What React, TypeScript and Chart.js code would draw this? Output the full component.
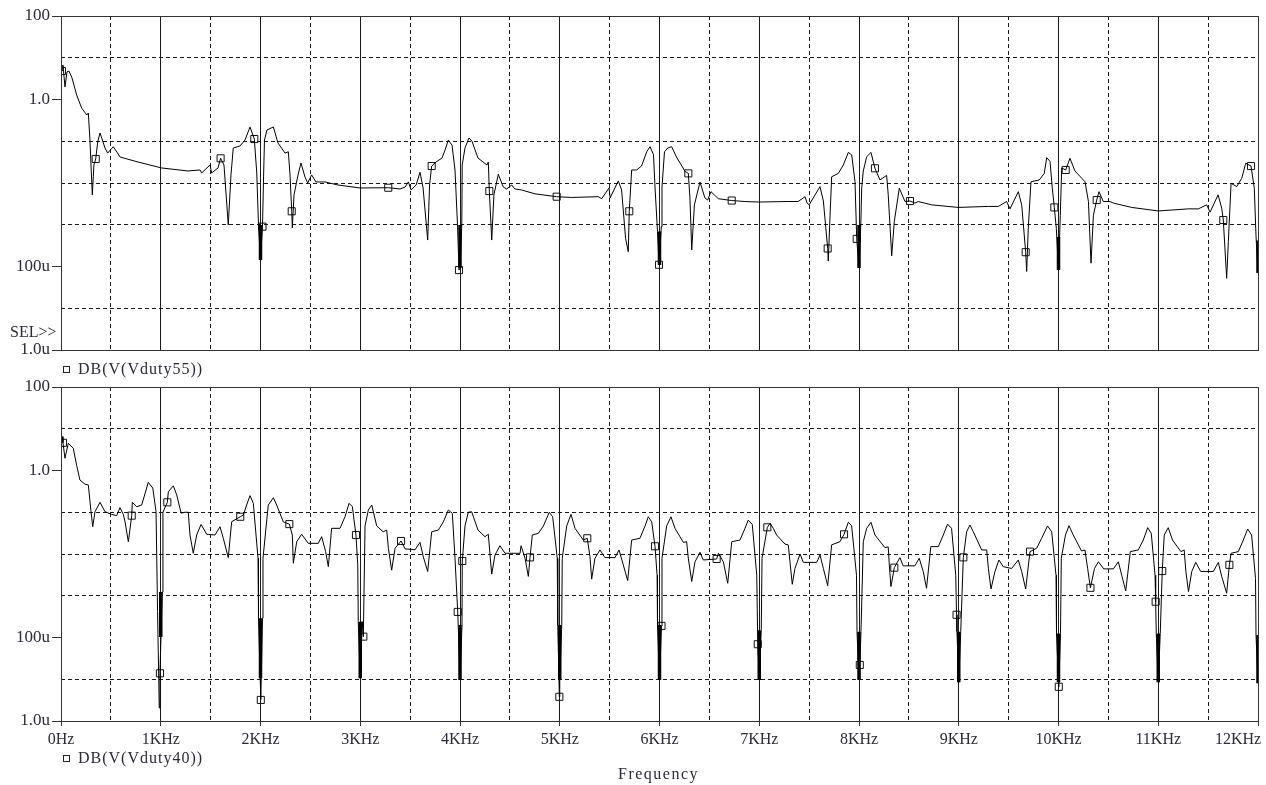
import React, { useEffect, useRef } from "react";
import { Chart, registerables } from "chart.js";

Chart.register(...registerables);

// ---------- axis data ----------
const xTickKHz = [0, 0.5, 1, 1.5, 2, 2.5, 3, 3.5, 4, 4.5, 5, 5.5, 6, 6.5, 7, 7.5, 8, 8.5, 9, 9.5, 10, 10.5, 11, 11.5, 12];
const xTickLabels = ["0Hz", "", "1KHz", "", "2KHz", "", "3KHz", "", "4KHz", "", "5KHz", "", "6KHz", "", "7KHz", "", "8KHz", "", "9KHz", "", "10KHz", "", "11KHz", "", "12KHz"];
const yTickValues = [1e-6, 1e-5, 1e-4, 1e-3, 1e-2, 1e-1, 1, 10, 100];
const yTickLabels = ["1.0u", "", "100u", "", "", "", "1.0", "", "100"];

// ---------- DB(V(Vduty55)) : [kHz, magnitude] ----------
const trace55: [number, number][] = [
  [0, 5.1], [0.01, 4.8], [0.02, 6.7], [0.04, 2.0], [0.06, 4.6], [0.08, 4.8], [0.11, 3.3], [0.157, 1.28], [0.207, 0.625], [0.258, 0.425],
  [0.274, 0.475], [0.29, 0.107], [0.314, 5.2e-3], [0.33, 0.027], [0.348, 0.0376], [0.368, 0.096], [0.391, 0.158], [0.441, 0.069], [0.468, 0.052], [0.524, 0.074],
  [0.561, 0.055], [0.591, 0.042], [0.772, 0.0318], [1.01, 0.0229], [1.273, 0.0194], [1.393, 0.0205], [1.41, 0.0174], [1.494, 0.027], [1.51, 0.0174], [1.574, 0.0229],
  [1.6, 0.039], [1.634, 0.027], [1.677, 9.9e-4], [1.704, 0.0156], [1.727, 0.069], [1.794, 0.077], [1.845, 0.107], [1.895, 0.22], [1.938, 0.113], [1.962, 0.0183],
  [1.98, 9.9e-4], [2.0, 1.43e-4], [2.02, 9e-4], [2.03, 0.0118], [2.04, 0.107], [2.065, 0.186], [2.129, 0.22], [2.175, 0.091], [2.246, 0.052], [2.279, 0.056],
  [2.296, 0.0156], [2.313, 2.1e-3], [2.319, 8.4e-4], [2.336, 5.2e-3], [2.376, 0.0156], [2.406, 0.0301], [2.446, 0.0139], [2.473, 0.01], [2.513, 0.0156], [2.556, 0.0106],
  [2.647, 0.0106], [2.777, 8.95e-3], [2.998, 7.6e-3], [3.281, 7.7e-3], [3.4, 7.2e-3], [3.45, 8.0e-3], [3.482, 0.0106], [3.51, 6.8e-3], [3.56, 8.95e-3], [3.599, 0.018],
  [3.63, 7.6e-3], [3.676, 4.3e-4], [3.695, 8.95e-3], [3.716, 0.0255], [3.76, 0.0318], [3.82, 0.0397], [3.85, 0.0617], [3.883, 0.107], [3.92, 0.081], [3.95, 0.0205],
  [3.975, 9.9e-4], [3.99, 8.2e-5], [4.0, 9.2e-5], [4.018, 9.9e-4], [4.022, 0.027], [4.05, 0.069], [4.09, 0.12], [4.12, 0.1], [4.18, 0.0397], [4.27, 0.027],
  [4.284, 0.0318], [4.294, 6.4e-3], [4.318, 4.3e-4], [4.34, 5.2e-3], [4.384, 0.0162], [4.434, 8.0e-3], [4.468, 7.2e-3], [4.518, 8.95e-3], [4.55, 7.2e-3], [4.618, 6.8e-3],
  [4.752, 5.5e-3], [4.969, 4.7e-3], [5.12, 4.5e-3], [5.387, 4.7e-3], [5.42, 4.2e-3], [5.494, 7.6e-3], [5.505, 4.4e-3], [5.587, 0.0112], [5.62, 6.8e-3], [5.66, 4.7e-4],
  [5.687, 2.26e-4], [5.697, 2.1e-3], [5.721, 0.0205], [5.77, 0.0205], [5.82, 0.0255], [5.872, 0.056], [5.905, 0.074], [5.94, 0.0476], [5.955, 8.0e-3], [5.98, 6.9e-4],
  [5.995, 1.1e-4], [6.018, 9e-4], [6.025, 8e-3], [6.05, 0.056], [6.083, 0.069], [6.122, 0.074], [6.17, 0.042], [6.256, 0.019], [6.289, 0.017], [6.305, 4.4e-3],
  [6.323, 2.5e-4], [6.35, 3e-3], [6.406, 0.0106], [6.455, 4.4e-3], [6.483, 3.9e-3], [6.516, 6.2e-3], [6.59, 4.2e-3], [6.724, 3.8e-3], [6.856, 3.6e-3], [6.99, 3.5e-3],
  [7.29, 3.6e-3], [7.39, 3.6e-3], [7.459, 4.7e-3], [7.48, 3.3e-3], [7.5, 3.0e-3], [7.609, 8.2e-3], [7.643, 3.7e-3], [7.686, 2.7e-4], [7.692, 1.35e-4], [7.71, 1.7e-3],
  [7.726, 0.0141], [7.793, 0.017], [7.843, 0.027], [7.893, 0.054], [7.927, 0.047], [7.96, 0.0107], [7.977, 4.6e-4], [8.0, 9.2e-5], [8.018, 1e-3], [8.027, 7.5e-3],
  [8.043, 0.0194], [8.077, 0.0427], [8.12, 0.054], [8.16, 0.0225], [8.21, 0.0118], [8.277, 0.0152], [8.293, 5.2e-3], [8.328, 1.8e-4], [8.354, 1.2e-3], [8.404, 7.5e-3],
  [8.461, 3.6e-3], [8.511, 3.7e-3], [8.561, 3.3e-3], [8.594, 3.6e-3], [8.728, 3.0e-3], [8.996, 2.6e-3], [9.297, 2.75e-3], [9.397, 2.75e-3], [9.48, 3.6e-3], [9.514, 2.4e-3],
  [9.597, 6.2e-3], [9.631, 3.0e-3], [9.671, 2.2e-4], [9.681, 7.6e-5], [9.697, 8.3e-4], [9.724, 0.0107], [9.807, 0.0118], [9.857, 0.017], [9.882, 0.0404], [9.915, 0.033],
  [9.938, 7.5e-3], [9.958, 2.6e-3], [9.978, 8.3e-4], [10.0, 8.2e-5], [10.018, 1.7e-3], [10.032, 0.0229], [10.072, 0.0205], [10.115, 0.039], [10.165, 0.0194], [10.266, 0.0107],
  [10.3, 3.6e-3], [10.326, 1.2e-4], [10.35, 1.7e-3], [10.383, 3.9e-3], [10.406, 6.2e-3], [10.449, 3.6e-3], [10.516, 3.6e-3], [10.55, 3.3e-3], [10.734, 2.6e-3], [11.0, 2.14e-3],
  [11.3, 2.4e-3], [11.402, 2.4e-3], [11.485, 3.0e-3], [11.519, 2.0e-3], [11.6, 5.2e-3], [11.636, 2.5e-3], [11.652, 1.3e-3], [11.686, 5.2e-5], [11.703, 4e-4], [11.73, 9.8e-3],
  [11.787, 8.2e-3], [11.837, 0.013], [11.877, 0.0297], [11.93, 0.0255], [11.963, 7.5e-3], [11.98, 5.4e-4], [12.0, 7e-5],
];
const markers55: [number, number][] = [
  [0.01, 4.8], [0.348, 0.0376], [1.6, 0.039], [1.938, 0.113], [2.02, 9e-4], [2.313, 2.1e-3], [3.281, 7.7e-3], [3.716, 0.0255], [3.99, 8.2e-5],
  [4.294, 6.4e-3], [4.969, 4.7e-3], [5.697, 2.1e-3], [5.995, 1.1e-4], [6.289, 0.017], [6.724, 3.8e-3], [7.686, 2.7e-4], [7.977, 4.6e-4],
  [8.16, 0.0225], [8.511, 3.7e-3], [9.671, 2.2e-4], [9.958, 2.6e-3], [10.072, 0.0205], [10.383, 3.9e-3], [11.652, 1.3e-3], [11.93, 0.0255],
];
const notchKHz55 = [2, 4, 6, 8, 10, 12];
const notchTop55 = [9.9e-4, 9.9e-4, 6.9e-4, 9.9e-4, 5.1e-4, 4.2e-4];
const notchBottom55 = [1.43e-4, 9.2e-5, 1.09e-4, 9.2e-5, 8.2e-5, 7e-5];

// ---------- DB(V(Vduty40)) : [kHz, magnitude] ----------
const trace40: [number, number][] = [
  [0, 5.4], [0.013, 6.5], [0.02, 4.6], [0.04, 1.96], [0.073, 4.5], [0.123, 3.4], [0.157, 1.32], [0.19, 0.59], [0.241, 0.47], [0.274, 0.45],
  [0.301, 0.103], [0.318, 0.045], [0.341, 0.103], [0.391, 0.173], [0.441, 0.103], [0.508, 0.089], [0.558, 0.083], [0.591, 0.129], [0.625, 0.089], [0.642, 0.0587],
  [0.675, 0.0197], [0.709, 0.083], [0.715, 0.173], [0.759, 0.136], [0.809, 0.149], [0.875, 0.52], [0.92, 0.38], [0.953, 0.103], [0.968, 4.2e-4], [0.985, 2.05e-6],
  [0.992, 1.39e-5], [1.015, 1.23e-3], [1.022, 0.1], [1.066, 0.173], [1.076, 0.31], [1.126, 0.43], [1.16, 0.26], [1.204, 0.095], [1.243, 0.1], [1.276, 0.1],
  [1.293, 0.0285], [1.326, 0.0104], [1.36, 0.0285], [1.404, 0.051], [1.461, 0.0297], [1.544, 0.0285], [1.594, 0.045], [1.627, 0.0238], [1.677, 8.2e-3], [1.711, 0.0594],
  [1.797, 0.078], [1.828, 0.086], [1.861, 0.149], [1.895, 0.25], [1.928, 0.164], [1.975, 7.9e-3], [1.98, 2.9e-4], [2.003, 3.2e-6], [2.02, 2.9e-4], [2.025, 7.9e-3],
  [2.078, 0.149], [2.129, 0.223], [2.162, 0.149], [2.229, 0.0587], [2.289, 0.052], [2.319, 0.0285], [2.329, 6e-3], [2.363, 0.0197], [2.412, 0.0297], [2.479, 0.018],
  [2.579, 0.018], [2.613, 0.026], [2.653, 0.0114], [2.68, 4.97e-3], [2.713, 0.0412], [2.797, 0.0412], [2.847, 0.078], [2.888, 0.164], [2.921, 0.136], [2.957, 0.0285],
  [2.975, 5.5e-3], [2.98, 2.4e-4], [3.0, 1.05e-5], [3.02, 2.4e-4], [3.031, 1.05e-4], [3.048, 0.047], [3.081, 0.113], [3.115, 0.149], [3.165, 0.047], [3.23, 0.034],
  [3.265, 0.0375], [3.282, 0.0137], [3.315, 4.1e-3], [3.349, 0.0137], [3.409, 0.0205], [3.449, 0.0133], [3.549, 0.0126], [3.599, 0.019], [3.632, 8.6e-3], [3.676, 3.8e-3],
  [3.716, 0.034], [3.783, 0.0375], [3.833, 0.0587], [3.883, 0.113], [3.923, 0.094], [3.95, 7.9e-3], [3.977, 4.1e-4], [3.982, 2.0e-4], [4.0, 9.6e-6], [4.02, 2.0e-4],
  [4.023, 6.8e-3], [4.05, 0.047], [4.083, 0.1], [4.117, 0.103], [4.18, 0.0375], [4.25, 0.026], [4.284, 0.0297], [4.301, 9.5e-3], [4.318, 3.3e-3], [4.351, 9.5e-3],
  [4.401, 0.0158], [4.451, 0.0104], [4.602, 0.0104], [4.612, 0.0158], [4.652, 7.9e-3], [4.685, 2.9e-3], [4.702, 8.3e-3], [4.725, 0.0285], [4.786, 0.0313], [4.836, 0.047],
  [4.895, 0.1], [4.929, 0.078], [4.975, 7.9e-3], [4.98, 2.0e-4], [4.996, 3.8e-6], [5.0, 9.6e-6], [5.02, 2.0e-4], [5.025, 7.9e-3], [5.07, 0.047], [5.113, 0.089],
  [5.153, 0.0412], [5.236, 0.0216], [5.276, 0.0238], [5.303, 8.6e-3], [5.32, 2.5e-3], [5.353, 7.9e-3], [5.403, 0.0125], [5.453, 8.2e-3], [5.554, 8.2e-3], [5.594, 0.0125],
  [5.637, 5.5e-3], [5.681, 2.3e-3], [5.721, 0.0216], [5.804, 0.0238], [5.855, 0.047], [5.888, 0.078], [5.922, 0.0587], [5.955, 0.0153], [5.976, 3.1e-3], [5.98, 2.0e-4],
  [6.0, 9.6e-6], [6.02, 1.9e-4], [6.025, 7.9e-3], [6.072, 0.047], [6.115, 0.078], [6.155, 0.0412], [6.239, 0.019], [6.272, 0.0197], [6.289, 7.9e-3], [6.323, 2.2e-3],
  [6.356, 6.5e-3], [6.406, 0.011], [6.439, 7.2e-3], [6.573, 7.6e-3], [6.59, 0.0104], [6.64, 6.5e-3], [6.684, 1.99e-3], [6.724, 0.0197], [6.807, 0.0216], [6.857, 0.0412],
  [6.89, 0.065], [6.93, 0.051], [6.975, 3.1e-3], [6.985, 6.9e-5], [7.0, 9.6e-6], [7.02, 1.5e-4], [7.028, 7.9e-3], [7.081, 0.0436], [7.108, 0.054], [7.141, 0.0412],
  [7.174, 0.0285], [7.258, 0.0173], [7.291, 0.0165], [7.308, 6.5e-3], [7.331, 1.88e-3], [7.358, 4.5e-3], [7.409, 0.01], [7.442, 6.3e-3], [7.576, 6.3e-3], [7.609, 9.5e-3],
  [7.643, 4.5e-3], [7.686, 1.74e-3], [7.726, 0.0166], [7.809, 0.0197], [7.85, 0.0296], [7.893, 0.0575], [7.926, 0.0477], [7.975, 3.1e-3], [7.98, 1.38e-4], [8.0, 9.6e-6],
  [8.008, 2.2e-5], [8.02, 1.38e-4], [8.043, 0.0197], [8.077, 0.0412], [8.12, 0.0575], [8.16, 0.0285], [8.26, 0.0142], [8.293, 0.0148], [8.304, 5.5e-3], [8.32, 1.66e-3],
  [8.354, 4.7e-3], [8.41, 8.2e-3], [8.443, 5.2e-3], [8.56, 5.2e-3], [8.604, 7.9e-3], [8.644, 3.8e-3], [8.677, 1.51e-3], [8.72, 0.015], [8.795, 0.015], [8.845, 0.0285],
  [8.888, 0.052], [8.928, 0.0412], [8.97, 3.1e-3], [8.978, 3.5e-4], [8.982, 1.38e-4], [9.0, 8.5e-6], [9.02, 1.38e-4], [9.046, 8.3e-3], [9.079, 0.034], [9.112, 0.0495],
  [9.146, 0.034], [9.23, 0.0125], [9.28, 0.0125], [9.297, 4.5e-3], [9.323, 1.45e-3], [9.363, 3.8e-3], [9.403, 7.2e-3], [9.446, 4.97e-3], [9.53, 4.5e-3], [9.597, 7.2e-3],
  [9.631, 3.8e-3], [9.671, 1.45e-3], [9.714, 0.0114], [9.781, 0.0137], [9.831, 0.0238], [9.89, 0.047], [9.932, 0.034], [9.975, 3.1e-3], [9.98, 1.25e-4], [10.003, 6.6e-6],
  [10.02, 1.25e-4], [10.028, 7.9e-3], [10.07, 0.0285], [10.105, 0.0477], [10.148, 0.0285], [10.231, 0.0118], [10.265, 0.0125], [10.292, 4.5e-3], [10.32, 1.55e-3], [10.361, 4.5e-3],
  [10.4, 6.5e-3], [10.454, 4.4e-3], [10.55, 4.4e-3], [10.6, 6.5e-3], [10.634, 3.1e-3], [10.674, 1.3e-3], [10.72, 0.0114], [10.8, 0.0125], [10.85, 0.0216], [10.894, 0.0427],
  [10.93, 0.0313], [10.968, 3.1e-3], [10.974, 7.2e-4], [10.98, 1.25e-4], [11.0, 8.5e-6], [11.02, 1.25e-4], [11.04, 3.9e-3], [11.06, 0.0285], [11.1, 0.0427], [11.143, 0.0216],
  [11.227, 0.0114], [11.26, 0.0125], [11.277, 3.8e-3], [11.303, 1.26e-3], [11.336, 3.8e-3], [11.376, 6.3e-3], [11.426, 3.8e-3], [11.552, 3.8e-3], [11.602, 6.3e-3], [11.636, 2.9e-3],
  [11.686, 1.15e-3], [11.713, 5.5e-3], [11.73, 0.0104], [11.803, 0.0114], [11.853, 0.0216], [11.896, 0.0397], [11.936, 0.0285], [11.975, 2.6e-3], [11.98, 1.15e-4], [12.0, 8e-6],
];
const markers40: [number, number][] = [
  [0.02, 4.6], [0.709, 0.083], [0.992, 1.39e-5], [1.066, 0.173], [1.797, 0.078], [2.003, 3.2e-6], [2.289, 0.052], [2.957, 0.0285], [3.031, 1.05e-4],
  [3.409, 0.0205], [3.977, 4.1e-4], [4.023, 6.8e-3], [4.702, 8.3e-3], [4.996, 3.8e-6], [5.276, 0.0238], [5.955, 0.0153], [6.02, 1.9e-4], [6.573, 7.6e-3],
  [6.985, 6.9e-5], [7.081, 0.0436], [7.85, 0.0296], [8.008, 2.2e-5], [8.354, 4.7e-3], [8.978, 3.5e-4], [9.046, 8.3e-3], [9.714, 0.0114], [10.003, 6.6e-6],
  [10.32, 1.55e-3], [10.974, 7.2e-4], [11.04, 3.9e-3], [11.713, 5.5e-3],
];
const notchKHz40 = [1, 2, 3, 4, 5, 6, 7, 8, 9, 10, 11, 12];
const notchTop40 = [1.23e-3, 2.9e-4, 2.4e-4, 2.0e-4, 2.0e-4, 2.0e-4, 1.5e-4, 1.38e-4, 1.38e-4, 1.25e-4, 1.25e-4, 1.15e-4];
const notchBottom40 = [1.03e-4, 1.05e-5, 1.05e-5, 9.6e-6, 9.6e-6, 9.6e-6, 9.6e-6, 9.6e-6, 8.5e-6, 8.5e-6, 8.5e-6, 8e-6];

// ---------- style ----------
const FONT_FAMILY = "'Liberation Serif', 'DejaVu Serif', serif";
const X_FONT_SIZE = 16;
const Y_FONT_SIZE = 17;
const TEXT = "#2b2b3a";
const GRID = "#1a1a1a";
const FRAME = "#333";

const framePlugin = {
  id: "frame",
  afterDraw(chart: any) {
    const { ctx, chartArea } = chart;
    const { left, top, right, bottom } = chartArea;
    ctx.save();
    ctx.setLineDash([]);
    ctx.strokeStyle = FRAME;
    ctx.lineWidth = 1;
    ctx.strokeRect(left + 0.5, top + 0.5, right - left, bottom - top);
    ctx.restore();
  },
};

type PanelProps = {
  trace: [number, number][];
  markers: [number, number][];
  notchKHz: number[];
  notchTop: number[];
  notchBottom: number[];
  showX: boolean;
  top: number;
  height: number;
  padding: { top: number; bottom: number; left: number; right: number };
  xHeight: number;
};

function Panel(props: PanelProps) {
  const ref = useRef<HTMLCanvasElement>(null);
  useEffect(() => {
    const canvas = ref.current;
    if (!canvas) return;
    const { trace, markers, notchKHz, notchTop, notchBottom, showX, padding, xHeight } = props;
    const notchData: any[] = [];
    notchKHz.forEach((f, i) => {
      notchData.push({ x: f, y: notchTop[i] }, { x: f, y: notchBottom[i] }, { x: f, y: null });
    });
    const lastX = xTickLabels.length - 1;
    const chart = new Chart(canvas, {
      type: "line",
      data: {
        datasets: [
          {
            data: trace.map(([x, y]) => ({ x, y })),
            borderColor: "#000",
            borderWidth: 1,
            borderJoinStyle: "bevel",
            pointRadius: 0,
            tension: 0,
            fill: false,
          },
          {
            data: notchData,
            borderColor: "#000",
            borderWidth: 3.5,
            borderCapStyle: "butt",
            pointRadius: 0,
            spanGaps: false,
            fill: false,
          },
          {
            data: markers.map(([x, y]) => ({ x, y })),
            showLine: false,
            pointStyle: "rect",
            pointRadius: 5,
            pointBorderWidth: 1,
            pointBorderColor: "#111",
            pointBackgroundColor: "rgba(0,0,0,0)",
          },
        ],
      } as any,
      options: {
        responsive: false,
        animation: false,
        events: [],
        layout: { padding },
        plugins: { legend: { display: false }, tooltip: { enabled: false } },
        scales: {
          x: {
            type: "linear",
            min: 0,
            max: 12,
            afterBuildTicks: (s: any) => {
              s.ticks = xTickKHz.map((v) => ({ value: v }));
            },
            afterFit: (s: any) => {
              s.height = xHeight;
              s.paddingLeft = 0;
              s.paddingRight = 0;
            },
            ticks: {
              display: showX,
              autoSkip: false,
              maxRotation: 0,
              minRotation: 0,
              padding: 4,
              color: TEXT,
              font: { family: FONT_FAMILY, size: X_FONT_SIZE },
              callback: (_v: any, i: number) =>
                i === lastX ? xTickLabels[i] + "\u2007\u2007\u2007\u2007\u2007" : xTickLabels[i],
            },
            grid: {
              color: GRID,
              lineWidth: 1,
              drawTicks: showX,
              tickLength: 5,
              tickWidth: 1,
              tickColor: (c: any) => (c.tick && xTickLabels[c.index] ? FRAME : "rgba(0,0,0,0)"),
            },
            border: {
              display: false,
              dash: (c: any) => (c.tick && !xTickLabels[c.index] ? [4, 3] : []),
            },
          },
          y: {
            type: "logarithmic",
            min: 1e-6,
            max: 100,
            afterBuildTicks: (s: any) => {
              s.ticks = yTickValues.map((v) => ({ value: v }));
            },
            afterFit: (s: any) => {
              s.width = 61;
              s.paddingTop = 0;
              s.paddingBottom = 0;
            },
            ticks: {
              autoSkip: false,
              padding: 2,
              color: TEXT,
              font: { family: FONT_FAMILY, size: Y_FONT_SIZE },
              callback: (_v: any, i: number) => yTickLabels[i],
            },
            grid: {
              color: (c: any) => (c.tick && yTickLabels[c.index] ? "rgba(0,0,0,0)" : GRID),
              lineWidth: 1,
              drawTicks: true,
              tickLength: 9,
              tickWidth: 1,
              tickColor: (c: any) => (c.tick && yTickLabels[c.index] ? FRAME : "rgba(0,0,0,0)"),
            },
            border: { display: false, dash: [4, 3] },
          },
        },
      } as any,
      plugins: [framePlugin],
    });
    return () => chart.destroy();
  }, []);
  return (
    <canvas
      ref={ref}
      width={1266}
      height={props.height}
      style={{ position: "absolute", left: 0, top: props.top, width: 1266, height: props.height }}
    />
  );
}

const textStyle: React.CSSProperties = {
  position: "absolute",
  fontFamily: FONT_FAMILY,
  fontSize: 16,
  lineHeight: "16px",
  color: TEXT,
  whiteSpace: "pre",
};

const squareStyle: React.CSSProperties = {
  position: "absolute",
  width: 7,
  height: 7,
  border: "1px solid #222",
  boxSizing: "border-box",
};

export default function App() {
  return (
    <div style={{ position: "fixed", left: 0, top: 0, width: 1266, height: 785, background: "#fff", overflow: "hidden" }}>
      <Panel
        trace={trace55}
        markers={markers55}
        notchKHz={notchKHz55}
        notchTop={notchTop55}
        notchBottom={notchBottom55}
        showX={false}
        top={0}
        height={380}
        padding={{ top: 16, bottom: 30, left: 0, right: 8 }}
        xHeight={0}
      />
      <Panel
        trace={trace40}
        markers={markers40}
        notchKHz={notchKHz40}
        notchTop={notchTop40}
        notchBottom={notchBottom40}
        showX={true}
        top={370}
        height={415}
        padding={{ top: 17, bottom: 34, left: 0, right: 8 }}
        xHeight={30}
      />
      <div style={{ ...textStyle, left: 10, top: 324 }}>SEL&gt;&gt;</div>
      <div style={{ ...squareStyle, left: 63, top: 366 }} />
      <div style={{ ...textStyle, left: 78, top: 361, letterSpacing: 1 }}>DB(V(Vduty55))</div>
      <div style={{ ...squareStyle, left: 63, top: 755 }} />
      <div style={{ ...textStyle, left: 78, top: 750, letterSpacing: 1 }}>DB(V(Vduty40))</div>
      <div style={{ ...textStyle, left: 618, top: 766, letterSpacing: 1.5 }}>Frequency</div>
    </div>
  );
}
